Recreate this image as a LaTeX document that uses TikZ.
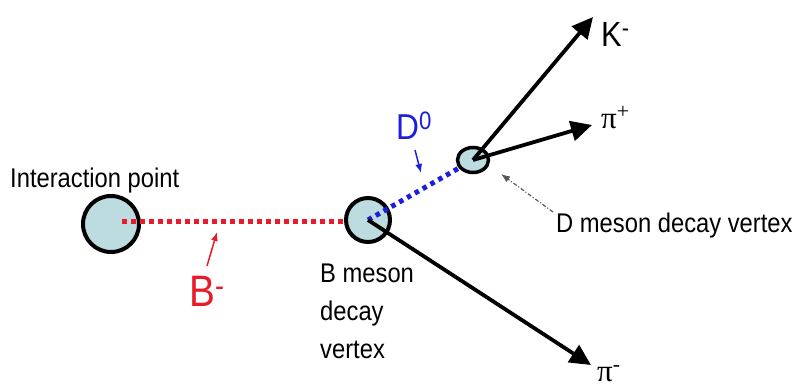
\documentclass[tikz,border=0pt]{standalone}
\usepackage{fontspec}
\setmainfont{Liberation Sans}[FakeStretch=0.88]
\newfontfamily\greekfont{Liberation Serif}
\usepackage{tikz}
\usetikzlibrary{arrows.meta, shapes.geometric}
\definecolor{vtxfill}{RGB}{188,220,224}
\definecolor{bred}{RGB}{232,28,40}
\definecolor{dblue}{RGB}{28,30,222}

\begin{document}
\begin{tikzpicture}[
    x=1pt, y=-1pt,
    every node/.style={font=\fontsize{27}{38}\selectfont, inner sep=0pt},
    vertex/.style={circle, draw, line width=4pt, fill=vtxfill},
    track/.style={line width=3.8pt, -{Triangle[length=21pt, width=20pt]}},
    flight/.style={line width=5pt, dash pattern=on 4.5pt off 4.5pt},
    pointer/.style={line width=1.5pt, -{Latex[length=9pt, width=7pt]}},
    lbl/.style={anchor=base west}
  ]
    \useasboundingbox (0,0) rectangle (808,388);

    % vertices and the B flight path
    \node[vertex, minimum size=56pt] (ip) at (111,224) {};
    \coordinate (ipout) at (122,221);
    \coordinate (bin) at (348,221);
    \draw[flight, bred] (ipout) -- (bin);
    \node[vertex, minimum size=44pt] (bv) at (368,220) {};
    \node[vertex, ellipse, minimum width=31pt, minimum height=25pt,
          line width=3.5pt] (dv) at (473,160) {};

    % D flight path
    \draw[flight, dblue] (bv.center) -- (dv);

    % tracks
    \coordinate (ktip) at (593,17);
    \coordinate (pptip) at (592,125);
    \coordinate (pmtip) at (591,365);
    \draw[track] (dv.center) -- (ktip);
    \draw[track] (dv.center) -- (pptip);
    \draw[track] (bv.center) -- (pmtip);

    % labels
    \node[lbl] (iplbl) at (10,187) {Interaction point};
    \node[anchor=north west, align=left] (bvlbl) at (320,264)
        {B meson\\decay\\vertex};
    \node[lbl] (dvlbl) at (556,232) {D meson decay vertex};
    \node[lbl, font=\fontsize{35}{40}\selectfont] (klbl) at (601,46)
        {K\textsuperscript{-}};
    \node[lbl, font=\fontsize{31}{36}\greekfont] (pplbl) at (601,128)
        {π\textsuperscript{+}};
    \node[lbl, font=\fontsize{31}{36}\greekfont] (pmlbl) at (597,381)
        {π\textsuperscript{-}};
    \node[lbl, text=dblue, font=\fontsize{36}{40}\selectfont] (dlbl)
        at (396,139) {D\textsuperscript{0}};
    \node[lbl, text=bred, font=\fontsize{44}{48}\selectfont] (blbl)
        at (189,306) {B\textsuperscript{-}};

    % pointers
    \coordinate (bfrom) at (207,266);
    \coordinate (bto) at (217,232);
    \draw[pointer, bred] (bfrom) -- (bto);
    \coordinate (dfrom) at (415,150);
    \coordinate (dto) at (421,173);
    \draw[pointer, dblue] (dfrom) -- (dto);
    \coordinate (vfrom) at (553,212);
    \draw[pointer, gray!70!black, line width=1.2pt, dash pattern=on 4pt off 2pt on 1pt off 2pt]
        (vfrom) -- (501,174);
\end{tikzpicture}
\end{document}
